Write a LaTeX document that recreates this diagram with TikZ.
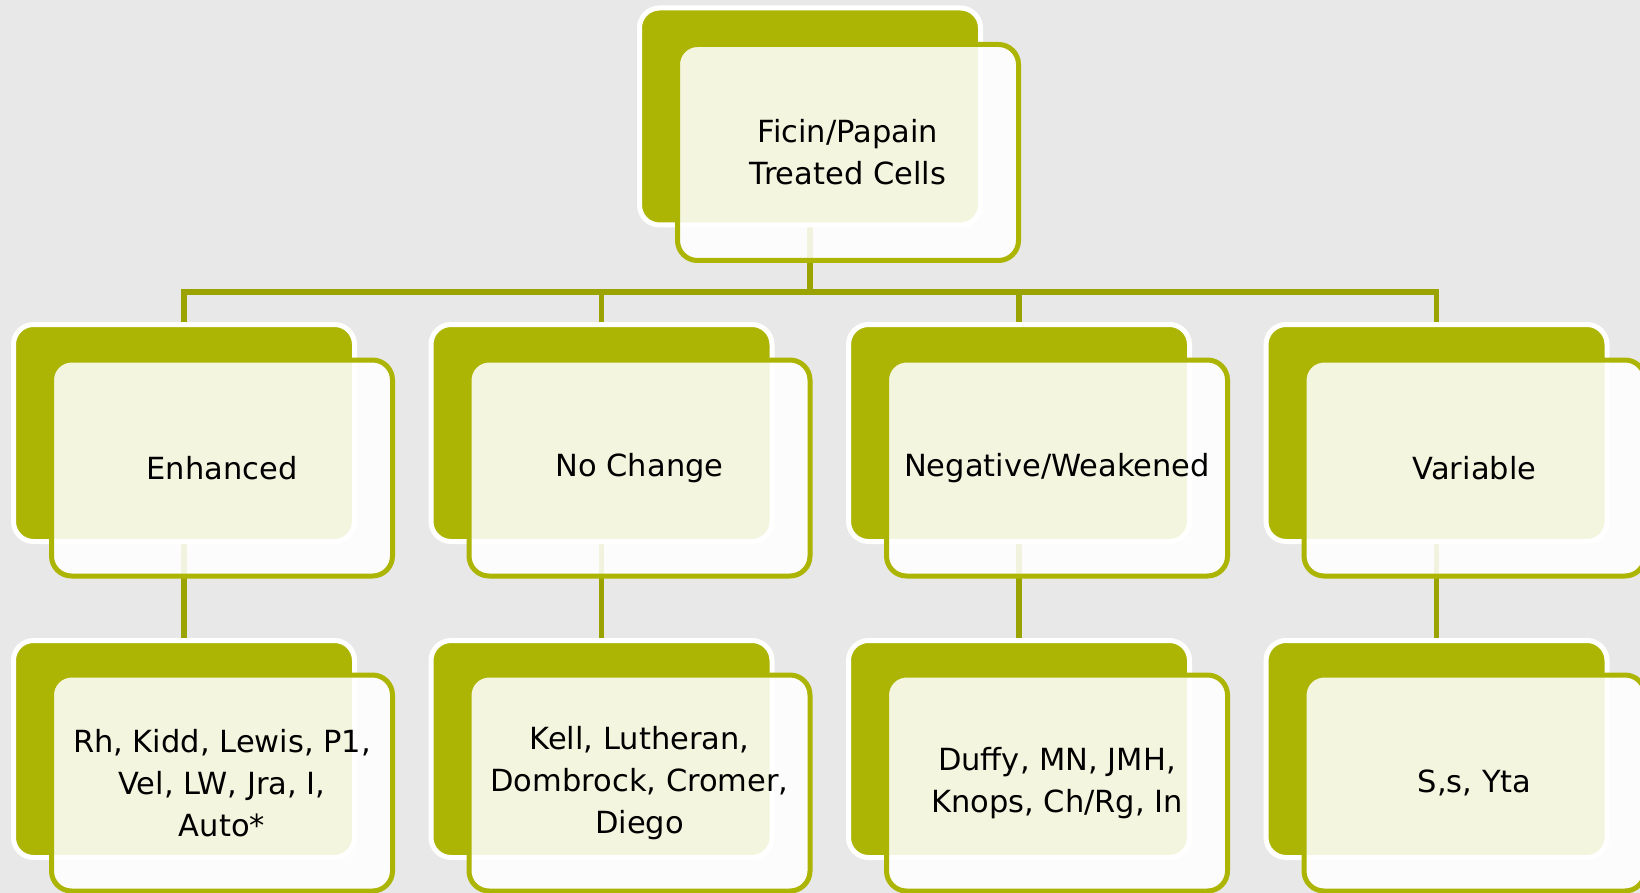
\documentclass[tikz,border=0pt]{standalone}
\usepackage{fontspec}
\setmainfont{DejaVu Sans}
\definecolor{boxolive}{HTML}{ADB504}
\definecolor{connolive}{HTML}{9AA300}
\definecolor{bggray}{HTML}{E8E8E8}
\pgfdeclarelayer{background}
\pgfsetlayers{background,main}
\tikzset{
  backbox/.style={draw=white, line width=5pt, fill=boxolive, rounded corners=20pt,
    minimum width=341pt, minimum height=217pt, inner sep=0pt},
  frontbox/.style={draw=boxolive, line width=5pt, fill=white, fill opacity=0.87,
    draw opacity=1, text opacity=1, rounded corners=20pt,
    minimum width=341pt, minimum height=216pt, inner sep=0pt, align=center,
    font=\fontsize{30.5}{42}\selectfont},
  conn/.style={draw=connolive, line width=5.5pt}
}
\begin{document}
\begin{tikzpicture}[x=1pt,y=-1pt]
\useasboundingbox (0,0) rectangle (1640,893);
\clip (0,0) rectangle (1640,893);
% top
\node[backbox] (tb) at (810,116.5) {};
\node[frontbox] (tf) at (848,152.5) {Ficin/Papain\\Treated Cells};
% level 2
\node[backbox] (b1) at (184,433) {};
\node[frontbox] (f1) at (222,468) {Enhanced};
\node[backbox] (b2) at (601.5,433) {};
\node[frontbox] (f2) at (639.5,468) {No Change};
\node[backbox] (b3) at (1019,433) {};
\node[frontbox] (f3) at (1057,468) {Negative/Weakened};
\node[backbox] (b4) at (1436.5,433) {};
\node[frontbox] (f4) at (1474.5,468) {Variable};
% level 3
\node[backbox] (c1) at (184,749) {};
\node[frontbox] (g1) at (222,783) {Rh, Kidd, Lewis, P1,\\Vel, LW, Jra, I,\\Auto*};
\node[backbox] (c2) at (601.5,749) {};
\node[frontbox] (g2) at (639.5,783) {Kell, Lutheran,\\Dombrock, Cromer,\\Diego};
\node[backbox] (c3) at (1019,749) {};
\node[frontbox] (g3) at (1057,783) {Duffy, MN, JMH,\\Knops, Ch/Rg, In};
\node[backbox] (c4) at (1436.5,749) {};
\node[frontbox] (g4) at (1474.5,783) {S,s, Yta};
\coordinate (bus) at (810,292);
\begin{pgfonlayer}{background}
\fill[bggray] (0,0) rectangle (1640,893);
\draw[conn] (tb.center) -- (tb.center |- bus) -| (b1.center);
\draw[conn] (tb.center |- bus) -| (b2.center);
\draw[conn] (tb.center |- bus) -| (b3.center);
\draw[conn] (tb.center |- bus) -| (b4.center);
\draw[conn] (b1.center) -- (c1.center);
\draw[conn] (b2.center) -- (c2.center);
\draw[conn] (b3.center) -- (c3.center);
\draw[conn] (b4.center) -- (c4.center);
\end{pgfonlayer}
\end{tikzpicture}
\end{document}
